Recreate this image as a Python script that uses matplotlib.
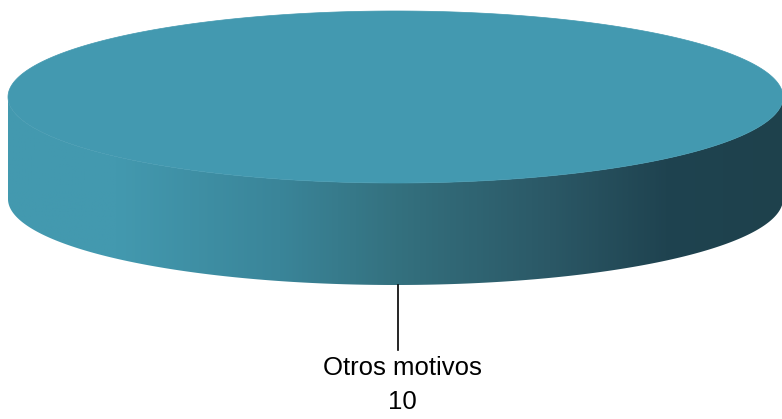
import numpy as np
import matplotlib
matplotlib.use("Agg")
import matplotlib.pyplot as plt
from matplotlib.patches import Polygon
from matplotlib.colors import LinearSegmentedColormap

categories = ["Otros motivos"]
values = [10]

W, H = 782, 419
fig = plt.figure(figsize=(W / 100, H / 100), dpi=100)
ax = fig.add_axes([0, 0, 1, 1])
ax.set_xlim(0, W)
ax.set_ylim(H, 0)
ax.axis("off")

cx, cy = 395.5, 97.0
rx, ry = 387.5, 86.0
depth = 102.0
top_color = "#4399B0"

side_cmap = LinearSegmentedColormap.from_list(
    "side",
    [(0.0, "#4399AF"), (0.14, "#4399AF"), (0.35, "#3A8599"), (0.5, "#34717F"),
     (0.7, "#2B5866"), (0.85, "#1F4350"), (1.0, "#1E414C")])

total = float(sum(values))
start = -90.0
for cat, v in zip(categories, values):
    sweep = 360.0 * v / total
    a0, a1 = start, start + sweep
    th = np.radians(np.linspace(0, 180, 400))
    top_x = cx + rx * np.cos(th)
    top_y = cy + ry * np.sin(th)
    bot_x = top_x[::-1]
    bot_y = (cy + depth + ry * np.sin(th))[::-1]
    side = Polygon(np.column_stack([np.r_[top_x, bot_x], np.r_[top_y, bot_y]]),
                   closed=True, facecolor="none", edgecolor="none")
    ax.add_patch(side)
    grad = np.linspace(0, 1, 512).reshape(1, -1)
    im = ax.imshow(grad, cmap=side_cmap, aspect="auto",
                   extent=[cx - rx, cx + rx, cy + depth + ry, cy], zorder=1)
    im.set_clip_path(side)

    tt = np.radians(np.linspace(a0, a1, 720))
    pts = np.column_stack([cx + rx * np.cos(tt), cy + ry * np.sin(tt)])
    if sweep < 360:
        pts = np.vstack([[cx, cy], pts])
    ax.add_patch(Polygon(pts, closed=True, facecolor=top_color,
                         edgecolor=top_color, lw=0.5, zorder=2))

    mid = np.radians((a0 + a1) / 2.0)
    lx = cx + rx * np.cos(mid) + 2.5
    ly = cy + depth + ry * np.sin(mid)
    ax.plot([lx, lx], [ly, ly + 65], color="black", lw=1.2, zorder=3)
    ax.text(lx + 4, ly + 83, cat, ha="center", va="center", fontsize=18.5,
            family="Liberation Sans", color="black")
    ax.text(lx + 4, ly + 117, f"{v:g}", ha="center", va="center", fontsize=18.5,
            family="Liberation Sans", color="black")
    start = a1

fig.savefig("out.png", dpi=100, facecolor="white")
